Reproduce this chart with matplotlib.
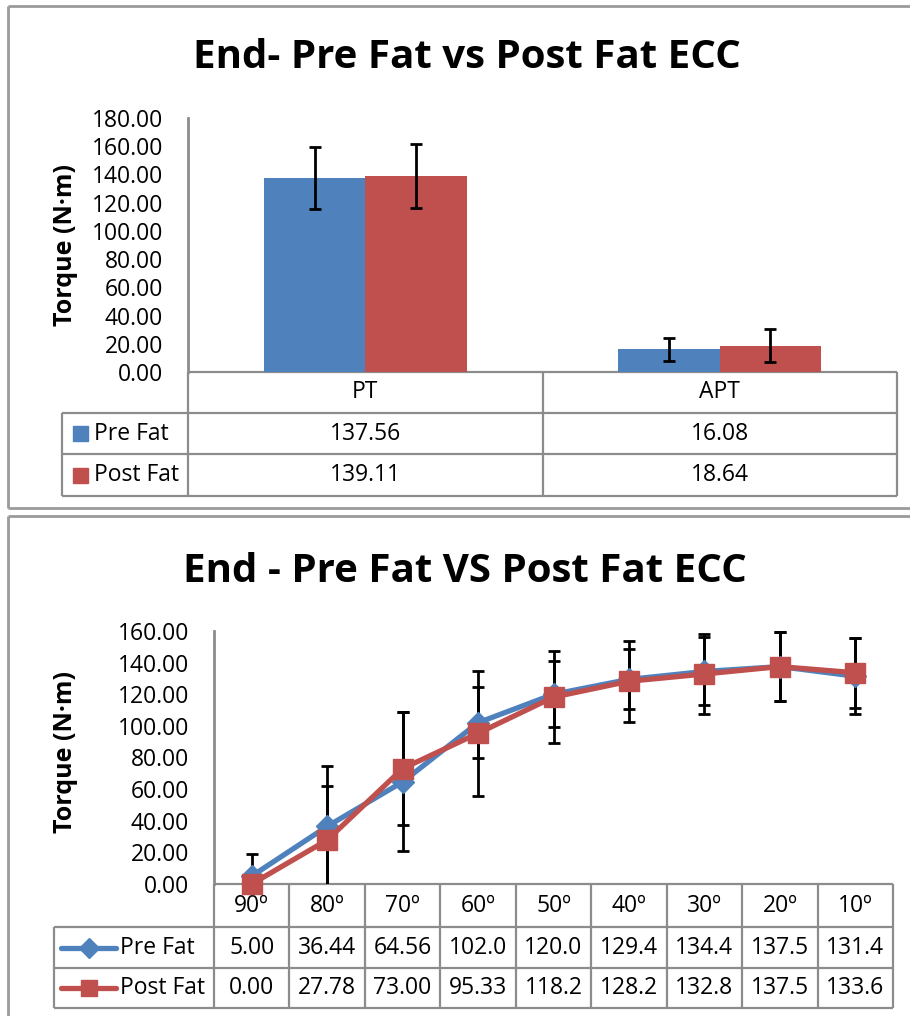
import matplotlib
matplotlib.use("Agg")
import matplotlib.pyplot as plt
import numpy as np
from matplotlib.patches import Rectangle

# ---------------- data ----------------
bar_categories = ["PT", "APT"]
bar_pre = [137.56, 16.08]
bar_post = [139.11, 18.64]
bar_pre_err = [22.0, 8.1]
bar_post_err = [22.8, 11.6]
bar_yticks = [0, 20, 40, 60, 80, 100, 120, 140, 160, 180]

angle_labels = ["90º", "80º", "70º", "60º", "50º", "40º", "30º", "20º", "10º"]
line_pre = [5.00, 36.44, 64.56, 102.0, 120.0, 129.4, 134.4, 137.5, 131.4]
line_post = [0.00, 27.78, 73.00, 95.33, 118.2, 128.2, 132.8, 137.5, 133.6]
line_pre_err = [14.2, 38.5, 44.0, 22.6, 21.0, 19.0, 21.5, 22.0, 24.0]
line_post_err = [0.0, 34.5, 36.0, 39.5, 29.0, 25.7, 25.5, 22.0, 22.0]
line_pre_txt = ["5.00", "36.44", "64.56", "102.0", "120.0", "129.4", "134.4", "137.5", "131.4"]
line_post_txt = ["0.00", "27.78", "73.00", "95.33", "118.2", "128.2", "132.8", "137.5", "133.6"]
line_yticks = [0, 20, 40, 60, 80, 100, 120, 140, 160]

series_names = ["Pre Fat", "Post Fat"]
title1 = "End- Pre Fat vs Post Fat ECC"
title2 = "End - Pre Fat VS Post Fat ECC"
ylabel = "Torque (N·m)"

BLUE = "#4F81BD"
RED = "#C0504D"
GRID = "#8C8C8C"
FONT = ["Open Sans", "DejaVu Sans"]
FS = 16.5
TFS = 29

plt.rcParams["font.family"] = FONT

W, H = 910, 1016
fig = plt.figure(figsize=(W / 100, H / 100), dpi=100)

# background overlay in pixel coordinates
bg = fig.add_axes([0, 0, 1, 1], zorder=0)
bg.set_xlim(0, W)
bg.set_ylim(H, 0)
bg.axis("off")


def hline(y, x0, x1, color=GRID, lw=1.6):
    bg.plot([x0, x1], [y, y], color=color, lw=lw, solid_capstyle="butt")


def vline(x, y0, y1, color=GRID, lw=1.6):
    bg.plot([x, x], [y0, y1], color=color, lw=lw, solid_capstyle="butt")


def rect_axes(l, t, r, b):
    return [l / W, 1 - b / H, (r - l) / W, (b - t) / H]


# ---------------- outer frames ----------------
FR = "#9A9A9A"
hline(6, 8, W, FR, 2)
vline(8, 6, 508, FR, 2)
hline(508, 8, W, FR, 2)
hline(516, 8, W, FR, 2)
vline(8, 516, H, FR, 2)

# ---------------- top chart ----------------
L1, T1, R1, B1 = 188, 118, 897, 372
ax1 = fig.add_axes(rect_axes(L1, T1, R1, B1), zorder=2)
x = np.arange(len(bar_categories)) + 0.5
bw = 1 / 3.5
ax1.bar(x - bw / 2, bar_pre, bw, color=BLUE, edgecolor="none", zorder=2)
ax1.bar(x + bw / 2, bar_post, bw, color=RED, edgecolor="none", zorder=2)
ax1.errorbar(x - bw / 2, bar_pre, yerr=bar_pre_err, fmt="none", ecolor="black",
             elinewidth=2, capsize=4.5, capthick=2, zorder=3)
ax1.errorbar(x + bw / 2, bar_post, yerr=bar_post_err, fmt="none", ecolor="black",
             elinewidth=2, capsize=4.5, capthick=2, zorder=3)
ax1.set_xlim(0, len(bar_categories))
ax1.set_ylim(0, 180)
ax1.set_yticks(bar_yticks)
ax1.set_yticklabels([f"{v:.2f}" for v in bar_yticks])
ax1.tick_params(axis="y", length=0, pad=18, labelsize=FS)
ax1.set_xticks([])
for s in ["top", "right", "bottom"]:
    ax1.spines[s].set_visible(False)
ax1.spines["left"].set_color(GRID)
ax1.spines["left"].set_linewidth(2)
ax1.patch.set_alpha(0)

fig.text(467 / W, 1 - 58 / H, title1, ha="center", va="center",
         fontsize=TFS, fontweight="bold")
fig.text(65 / W, 1 - 245 / H, ylabel, ha="center", va="center", rotation=90,
         fontsize=18, fontweight="bold")

# table top
col_edges1 = [L1 + (R1 - L1) * i / len(bar_categories) for i in range(len(bar_categories) + 1)]
rows1 = [372, 413, 454, 496]
leg_l1 = 62
hline(rows1[0], L1, R1)
for yy in rows1[1:]:
    hline(yy, leg_l1, R1)
for xx in col_edges1:
    vline(xx, rows1[0], rows1[-1])
vline(leg_l1, rows1[1], rows1[-1])
for i, c in enumerate(bar_categories):
    cx = (col_edges1[i] + col_edges1[i + 1]) / 2
    bg.text(cx, (rows1[0] + rows1[1]) / 2, c, ha="center", va="center", fontsize=FS)
    bg.text(cx, (rows1[1] + rows1[2]) / 2, f"{bar_pre[i]:.2f}", ha="center", va="center", fontsize=FS)
    bg.text(cx, (rows1[2] + rows1[3]) / 2, f"{bar_post[i]:.2f}", ha="center", va="center", fontsize=FS)
for j, (name, col) in enumerate(zip(series_names, [BLUE, RED])):
    cy = (rows1[j + 1] + rows1[j + 2]) / 2
    bg.add_patch(Rectangle((73, cy - 7.5), 15, 15, color=col))
    bg.text(94, cy, name, ha="left", va="center", fontsize=FS)

# ---------------- bottom chart ----------------
L2, T2, R2, B2 = 214, 631, 893, 884
ax2 = fig.add_axes(rect_axes(L2, T2, R2, B2), zorder=2)
xi = np.arange(len(angle_labels))
ax2.errorbar(xi, line_pre, yerr=line_pre_err, fmt="none", ecolor="black",
             elinewidth=2, capsize=4.5, capthick=2, zorder=3)
ax2.errorbar(xi, line_post, yerr=line_post_err, fmt="none", ecolor="black",
             elinewidth=2, capsize=4.5, capthick=2, zorder=3)
ax2.plot(xi, line_pre, color=BLUE, lw=3.8, marker="D", markersize=11,
         markerfacecolor=BLUE, markeredgecolor=BLUE, zorder=4, clip_on=False)
ax2.plot(xi, line_post, color=RED, lw=3.8, marker="s", markersize=14,
         markerfacecolor=RED, markeredgecolor=RED, zorder=5, clip_on=False)
ax2.set_xlim(-0.5, len(angle_labels) - 0.5)
ax2.set_ylim(0, 160)
ax2.set_yticks(line_yticks)
ax2.set_yticklabels([f"{v:.2f}" for v in line_yticks])
ax2.tick_params(axis="y", length=0, pad=18, labelsize=FS)
ax2.set_xticks([])
for s in ["top", "right", "bottom"]:
    ax2.spines[s].set_visible(False)
ax2.spines["left"].set_color(GRID)
ax2.spines["left"].set_linewidth(2)
ax2.patch.set_alpha(0)

fig.text(465 / W, 1 - 571 / H, title2, ha="center", va="center",
         fontsize=TFS, fontweight="bold")
fig.text(65 / W, 1 - 752 / H, ylabel, ha="center", va="center", rotation=90,
         fontsize=18, fontweight="bold")

n = len(angle_labels)
col_edges2 = [L2 + (R2 - L2) * i / n for i in range(n + 1)]
rows2 = [884, 927, 968, 1008]
leg_l2 = 54
hline(rows2[0], L2, R2)
for yy in rows2[1:]:
    hline(yy, leg_l2, R2)
for xx in col_edges2:
    vline(xx, rows2[0], rows2[-1])
vline(leg_l2, rows2[1], rows2[-1])
for i, c in enumerate(angle_labels):
    cx = (col_edges2[i] + col_edges2[i + 1]) / 2
    bg.text(cx, (rows2[0] + rows2[1]) / 2, c, ha="center", va="center", fontsize=FS)
    bg.text(cx, (rows2[1] + rows2[2]) / 2, line_pre_txt[i], ha="center", va="center", fontsize=FS)
    bg.text(cx, (rows2[2] + rows2[3]) / 2, line_post_txt[i], ha="center", va="center", fontsize=FS)
for j, (name, col, mk, ms) in enumerate(zip(series_names, [BLUE, RED], ["D", "s"], [10, 12])):
    cy = (rows2[j + 1] + rows2[j + 2]) / 2
    bg.plot([61, 116], [cy, cy], color=col, lw=3.8, solid_capstyle="round")
    bg.plot([88.5], [cy], marker=mk, markersize=ms, color=col)
    bg.text(120, cy, name, ha="left", va="center", fontsize=FS)

fig.savefig("out.png", dpi=100)
